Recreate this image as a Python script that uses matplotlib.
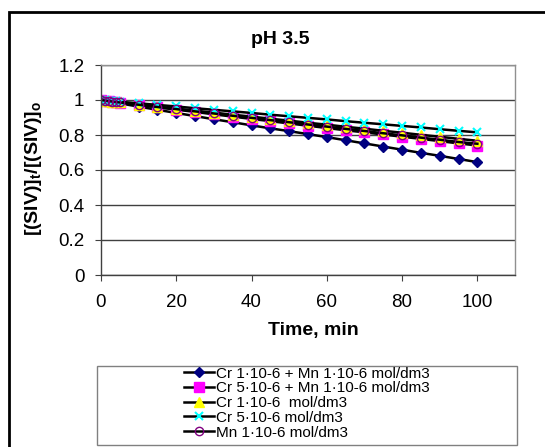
import matplotlib
matplotlib.use("Agg")
import matplotlib.pyplot as plt
from matplotlib.patches import Rectangle

plt.rcParams['font.family'] = ['Liberation Sans', 'DejaVu Sans']
plt.rcParams['mathtext.fontset'] = 'custom'
plt.rcParams['mathtext.rm'] = 'Liberation Sans'
plt.rcParams['mathtext.bf'] = 'Liberation Sans:bold'
plt.rcParams['mathtext.it'] = 'Liberation Sans:italic'

time_min = [0, 1, 2, 3, 4, 5, 10, 15, 20, 25, 30, 35, 40, 45, 50,
            55, 60, 65, 70, 75, 80, 85, 90, 95, 100]

cr1_mn1 = [1.000, 0.996, 0.992, 0.988, 0.985, 0.981, 0.962, 0.944, 0.926, 0.908,
           0.890, 0.873, 0.855, 0.838, 0.822, 0.805, 0.788, 0.770, 0.752, 0.734,
           0.716, 0.698, 0.681, 0.663, 0.645]
cr5_mn1 = [1.000, 0.997, 0.994, 0.991, 0.988, 0.985, 0.972, 0.958, 0.945, 0.932,
           0.918, 0.905, 0.892, 0.879, 0.866, 0.853, 0.840, 0.827, 0.815, 0.803,
           0.790, 0.778, 0.765, 0.752, 0.740]
cr1 = [1.000, 0.997, 0.994, 0.991, 0.989, 0.986, 0.974, 0.962, 0.951, 0.939,
       0.928, 0.916, 0.905, 0.893, 0.882, 0.870, 0.859, 0.847, 0.836, 0.824,
       0.813, 0.801, 0.790, 0.778, 0.767]
cr5 = [1.000, 0.998, 0.996, 0.994, 0.992, 0.990, 0.981, 0.972, 0.963, 0.953,
       0.944, 0.935, 0.926, 0.916, 0.907, 0.898, 0.889, 0.879, 0.870, 0.861,
       0.852, 0.843, 0.833, 0.824, 0.815]
mn1 = [1.000, 0.997, 0.994, 0.991, 0.988, 0.986, 0.973, 0.960, 0.948, 0.935,
       0.923, 0.910, 0.898, 0.885, 0.873, 0.860, 0.848, 0.835, 0.823, 0.810,
       0.798, 0.785, 0.773, 0.760, 0.750]

labels = ["Cr 1·10-6 + Mn 1·10-6 mol/dm3",
          "Cr 5·10-6 + Mn 1·10-6 mol/dm3",
          "Cr 1·10-6  mol/dm3",
          "Cr 5·10-6 mol/dm3",
          "Mn 1·10-6 mol/dm3"]

W, H = 545, 447
fig = plt.figure(figsize=(W / 100, H / 100), dpi=100)

# outer chart frame
fig.add_artist(Rectangle((9 / W, -0.1), 1.2, (H - 12) / H + 0.1,
                         transform=fig.transFigure, fill=False,
                         edgecolor='black', linewidth=2, clip_on=False))

ax = fig.add_axes([101 / W, 1 - 275 / H, (515 - 101) / W, (275 - 65) / H])

styles = [
    dict(marker='D', markersize=5.5, markerfacecolor='#000080', markeredgecolor='#000080'),
    dict(marker='s', markersize=7, markerfacecolor='#FF00FF', markeredgecolor='#FF00FF'),
    dict(marker='^', markersize=7, markerfacecolor='#FFFF00', markeredgecolor='#FFFF00'),
    dict(marker='x', markersize=6, markeredgecolor='#00FFFF', markeredgewidth=1.5),
    dict(marker='o', markersize=6, markerfacecolor='none', markeredgecolor='#800080',
         markeredgewidth=1.0),
]
series = [cr1_mn1, cr5_mn1, cr1, cr5, mn1]
handles = []
for ys, st, lab in zip(series, styles, labels):
    h, = ax.plot(time_min, ys, color='black', linewidth=1.8, label=lab, **st)
    handles.append(h)

ax.set_xlim(0, 110)
ax.set_ylim(0, 1.2)
ax.set_xticks([0, 20, 40, 60, 80, 100])
ax.set_yticks([0, 0.2, 0.4, 0.6, 0.8, 1.0, 1.2])
ax.set_yticklabels(['0', '0.2', '0.4', '0.6', '0.8', '1', '1.2'])
ax.tick_params(axis='both', labelsize=13.5, direction='out', length=4, color='#404040')
ax.tick_params(axis='x', pad=10)
ax.tick_params(axis='y', pad=8)
ax.grid(axis='y', color='#404040', linewidth=1.0)
ax.set_axisbelow(True)
for s in ['left', 'bottom']:
    ax.spines[s].set_color('#404040')
    ax.spines[s].set_linewidth(1.0)
for s in ['top', 'right']:
    ax.spines[s].set_color('#909090')
    ax.spines[s].set_linewidth(1.0)

fig.text(280 / W, 1 - 40 / H, 'pH 3.5', ha='center', va='center',
         fontsize=14, fontweight='bold')
fig.text(313 / W, 1 - 330 / H, 'Time, min', ha='center', va='center',
         fontsize=14, fontweight='bold')
fig.text(33 / W, 1 - 168 / H, r'$\mathbf{[(SIV)]_t/[(SIV)]_o}$', ha='center',
         va='center', rotation=90, fontsize=14)

# legend frame
fig.add_artist(Rectangle((97 / W, 1 - 445 / H), (517 - 97) / W, (445 - 366) / H,
                         transform=fig.transFigure, fill=False,
                         edgecolor='#808080', linewidth=1.0))
leg = fig.legend(handles=handles, labels=labels, loc='upper left',
                 bbox_to_anchor=(182 / W, 1 - 365 / H), frameon=False,
                 fontsize=11, handlelength=2.0, handletextpad=0.15,
                 labelspacing=0.05, borderaxespad=0, borderpad=0.1)

fig.savefig('out.png', dpi=100)
